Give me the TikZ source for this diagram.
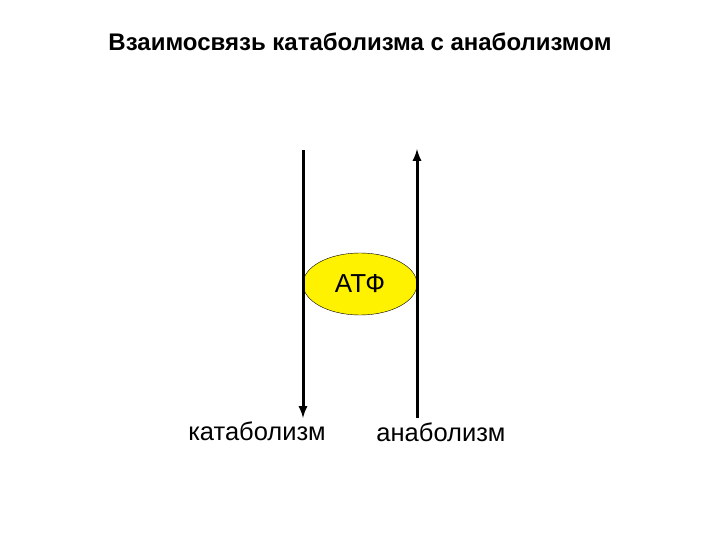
\documentclass[tikz,border=0pt]{standalone}
\usepackage{fontspec}
\setmainfont{Liberation Sans}
\usetikzlibrary{shapes.geometric}

\begin{document}
\begin{tikzpicture}[x=1pt,y=-1pt]
  \useasboundingbox (0,0) rectangle (720,540);
  \tikzset{
    flow/.style={line width=3pt,-latex},
    lbl/.style={font=\fontsize{25.5}{28}\selectfont,anchor=base}
  }
  \node at (360,51) [anchor=base,font=\bfseries\fontsize{24}{28}\selectfont] (title) {Взаимосвязь катаболизма с анаболизмом};

  \coordinate (katTop) at (303,150);
  \coordinate (katBot) at (303,418);
  \coordinate (anaBot) at (417,418);
  \coordinate (anaTop) at (417,149);

  \node at (360,284) [ellipse,draw,fill=yellow,minimum width=114pt,minimum height=62pt,inner sep=0pt,font=\fontsize{26}{28}\selectfont] (atp) {АТФ};

  \node at (257,440) [lbl] (kat) {катаболизм};
  \node at (441,441) [lbl] (ana) {анаболизм};

  \draw[flow] (katTop) -- (katBot);
  \draw[flow] (anaBot) -- (anaTop);
\end{tikzpicture}
\end{document}
